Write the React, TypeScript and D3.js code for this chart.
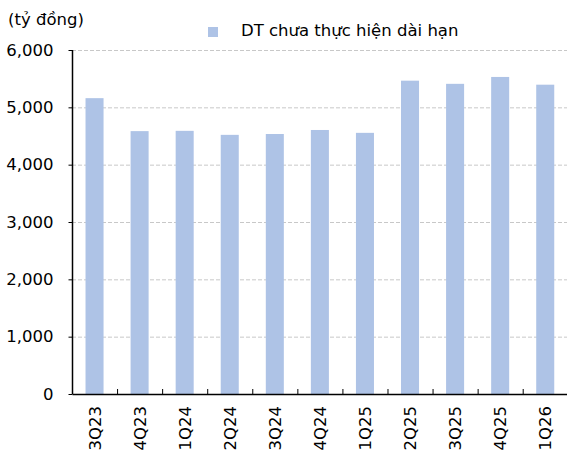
import React, { useEffect, useRef } from 'react';
import * as d3 from 'd3';

const quarters = ['3Q23', '4Q23', '1Q24', '2Q24', '3Q24', '4Q24', '1Q25', '2Q25', '3Q25', '4Q25', '1Q26'];
const revenue = [5160, 4585, 4590, 4520, 4535, 4605, 4555, 5465, 5410, 5530, 5395];
const yTicks = [0, 1000, 2000, 3000, 4000, 5000, 6000];

const W = 567;
const H = 453;

export default function App() {
  const svgRef = useRef<SVGSVGElement>(null);

  useEffect(() => {
    const svg = d3.select(svgRef.current);
    svg.selectAll('*').remove();
    const font = 'DejaVu Sans, Verdana, sans-serif';
    const fs = 16.5;

    const x = d3.scaleBand().domain(quarters).range([72, 72 + 45.07 * 11]).paddingInner(0).paddingOuter(0);
    const y = d3.scaleLinear().domain([0, 6000]).range([394, 50]);

    // grid
    svg.append('g')
      .selectAll('line')
      .data(yTicks.filter(t => t > 0))
      .join('line')
      .attr('x1', 72)
      .attr('x2', W)
      .attr('y1', d => y(d) + 0.5)
      .attr('y2', d => y(d) + 0.5)
      .attr('stroke', '#c8c8c8')
      .attr('stroke-dasharray', '4,2');

    // bars
    const bw = x.bandwidth() * 0.4;
    svg.append('g')
      .selectAll('rect')
      .data(revenue)
      .join('rect')
      .attr('x', (d, i) => x(quarters[i])! + (x.bandwidth() - bw) / 2)
      .attr('width', bw)
      .attr('y', d => y(d))
      .attr('height', d => y(0) - y(d))
      .attr('fill', '#aec3e6');

    // y axis
    const yAxis = svg.append('g')
      .attr('transform', 'translate(72.5,0)')
      .call(d3.axisLeft(y).tickValues(yTicks).tickSize(4).tickFormat(d3.format(',')));
    yAxis.select('.domain').attr('stroke', '#000').attr('stroke-width', 1.5).attr('d', `M0,${y(6000)}V${y(0)}`);
    yAxis.selectAll('.tick line').attr('stroke', '#000');
    yAxis.selectAll('.tick text')
      .attr('x', -19)
      .attr('font-family', font)
      .attr('font-size', fs)
      .attr('fill', '#000');

    // x axis
    const xAxis = svg.append('g')
      .attr('transform', `translate(0,${y(0)})`)
      .call(d3.axisBottom(x).tickSize(0).tickFormat(() => ''));
    xAxis.select('.domain').attr('stroke', '#000').attr('stroke-width', 1.5);

    // x tick marks between categories
    svg.append('g')
      .selectAll('line')
      .data(quarters.slice(1))
      .join('line')
      .attr('x1', d => x(d)! + 0.5)
      .attr('x2', d => x(d)! + 0.5)
      .attr('y1', y(0))
      .attr('y2', y(0) - 5)
      .attr('stroke', '#000');

    // x labels
    svg.append('g')
      .selectAll('text')
      .data(quarters)
      .join('text')
      .attr('transform', d => `translate(${x(d)! + x.bandwidth() / 2 + 6},${y(0) + 12}) rotate(-90)`)
      .attr('text-anchor', 'end')
      .attr('font-family', font)
      .attr('font-size', fs)
      .attr('fill', '#000')
      .text(d => d);

    // unit label
    svg.append('text')
      .attr('x', 8)
      .attr('y', 25)
      .attr('font-family', font)
      .attr('font-size', fs)
      .attr('fill', '#000')
      .text('(tỷ đồng)');

    // legend
    svg.append('rect')
      .attr('x', 208)
      .attr('y', 27)
      .attr('width', 10)
      .attr('height', 10)
      .attr('fill', '#aec3e6');
    svg.append('text')
      .attr('x', 241)
      .attr('y', 36)
      .attr('font-family', font)
      .attr('font-size', fs)
      .attr('fill', '#000')
      .text('DT chưa thực hiện dài hạn');
  }, []);

  return (
    <svg
      ref={svgRef}
      width={W}
      height={H}
      style={{ position: 'absolute', left: 0, top: 0, background: '#fff' }}
    />
  );
}
